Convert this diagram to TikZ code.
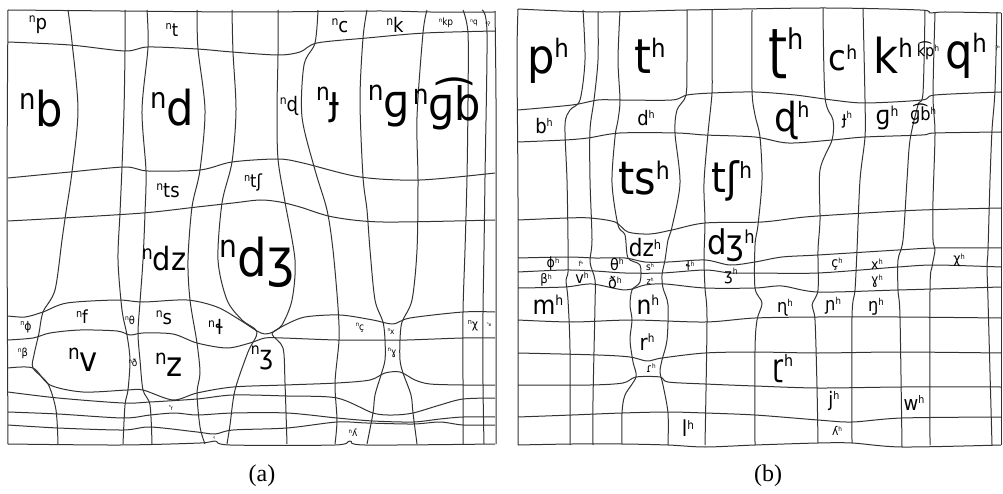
\documentclass[tikz,border=0pt]{standalone}
\usepackage{fontspec}
\setmainfont{DejaVu Sans}[FakeStretch=0.9]
\newfontfamily\capfont{Liberation Serif}
\newcommand{\fsz}[1]{\fontsize{#1}{#1}\selectfont}
\newcommand{\supn}{\raisebox{0.36em}{\scalebox{0.6}{n}}}
\newcommand{\suph}{\raisebox{0.33em}{\scalebox{0.53}{h}}}
\newcommand{\gl}[1]{\draw[gridline] plot[smooth,tension=0.5] coordinates {#1};}
\newcommand{\lab}[5]{\node[lab,font=\fsz{#4}] (#1) at (#2,#3) {#5};}
\begin{document}
\begin{tikzpicture}[x=1pt,y=-1pt,
  gridline/.style={line width=1pt,draw=black!80,line join=round},
  lab/.style={inner sep=0pt,anchor=center,text=black}]
\useasboundingbox[fill=white] (0,0) rectangle (1003,494);

% ---------------- panel (a): horizontal lines
\gl{(8,10) (120,11) (250,12) (380,11) (430,12) (495,12)}
\gl{(8,42) (70,45) (125,51) (148,47) (197,49) (232,52) (278,55) (300,52) (317,43) (367,38) (425,33) (495,31)}
\gl{(8,178) (70,172) (125,167) (148,171) (200,170) (232,162) (278,159) (303,163) (360,177) (420,180) (495,173)}
\gl{(8,221) (63,218) (143,213) (197,207) (233,203) (260,200) (280,202) (300,207) (333,217) (383,222) (495,220)}
\gl{(8,316) (25,317) (43,312) (67,303) (117,300) (143,302) (187,300) (217,307) (240,320) (257,331) (265,334) (273,332) (285,325) (305,317) (340,315) (373,320) (393,324) (410,318) (463,312) (495,312)}
\gl{(8,340) (33,338) (50,333) (80,330) (117,331) (130,335) (143,333) (173,334) (197,343) (227,348) (250,343) (265,338) (283,338) (337,340) (383,340) (407,340) (463,338) (495,338)}
\gl{(8,368) (33,368) (50,385) (83,392) (127,390) (143,390) (173,400) (197,393) (233,387) (285,385) (337,383) (370,380) (385,373) (400,372) (415,380) (430,384) (463,385) (495,385)}
\gl{(8,392) (58,398) (123,403) (150,402) (197,399) (233,395) (287,396) (337,398) (373,413) (393,415) (413,413) (440,405) (463,399) (495,398)}
\gl{(8,412) (58,414) (123,418) (150,415) (175,413) (197,415) (233,413) (287,413) (337,418) (373,421) (413,422) (440,419) (463,417) (495,417)}
\gl{(8,425) (58,428) (123,430) (150,427) (197,432) (215,434) (233,430) (287,428) (337,422) (367,423) (413,424) (440,422) (463,425) (495,425)}
\gl{(8,444) (120,445) (200,443) (215,441) (230,445) (335,445) (350,441) (365,445) (495,444)}

% ---------------- panel (a): vertical lines
\gl{(8,10) (7,200) (8,444)}
\gl{(68,10) (72,42) (78,110) (72,172) (66,212) (62,240) (55,290) (43,312) (39,333) (34,355) (33,368) (48,384) (56,410) (58,444)}
\gl{(125,10) (125,51) (124,110) (122,167) (120,213) (118,260) (122,310) (127,335) (130,360) (128,390) (125,405) (123,444)}
\gl{(147,10) (148,47) (142,110) (146,171) (145,213) (143,260) (140,302) (138,333) (140,360) (143,390) (150,405) (152,444)}
\gl{(197,10) (198,49) (205,110) (200,170) (192,207) (188,260) (190,300) (197,343) (200,373) (197,393) (200,427) (205,444)}
\gl{(232,10) (233,52) (236,110) (232,162) (222,203) (218,260) (227,300) (242,320) (257,332) (248,352) (235,390) (230,425) (227,444)}
\gl{(278,10) (278,55) (277,110) (278,159) (285,202) (295,260) (292,300) (282,325) (272,334) (283,348) (285,383) (287,444)}
\gl{(318,10) (315,43) (304,65) (302,117) (315,170) (327,210) (333,250) (338,307) (339,340) (335,383) (337,420) (335,444)}
\gl{(367,10) (363,38) (360,100) (363,177) (367,210) (370,250) (375,300) (383,322) (385,340) (385,360) (381,375) (375,395) (373,413) (367,444)}
\gl{(427,10) (423,33) (417,117) (418,180) (417,250) (412,300) (402,322) (400,340) (400,360) (403,373) (411,395) (413,413) (417,444)}
\gl{(463,10) (468,33) (468,100) (467,177) (465,250) (463,312) (463,385) (463,444)}
\gl{(482,10) (487,33) (485,177) (484,250) (483,312) (483,385) (484,444)}
\gl{(495,11) (496,100) (496,250) (496,444)}

% ---------------- panel (a): labels
\lab{anp}{38}{25}{20}{\supn p}
\lab{ant}{172}{30}{18}{\supn t}
\lab{anc}{340}{26}{20}{\supn c}
\lab{ank}{395}{25}{20}{\supn k}
\lab{ankp}{446}{23}{10}{\supn kp}
\lab{anq}{474}{23}{8}{\supn q}
\lab{angl}{488}{24}{6}{\supn ʔ}
\lab{anb}{41}{109}{48}{\supn b}
\lab{and}{172}{108}{48}{\supn d}
\lab{anrd}{289}{106}{20}{\supn ɖ}
\lab{anj}{328}{105}{40}{\supn ɟ}
\lab{ang}{389}{106}{46}{\supn ɡ}
\lab{angb}{447}{104}{46}{\supn ɡ͡b}
\lab{ants}{168}{191}{20}{\supn ts}
\lab{antsh}{253}{183}{18}{\supn tʃ}
\lab{andz}{164}{259}{32}{\supn dz}
\lab{andzh}{257}{262}{52}{\supn dʒ}
\lab{anf}{82}{317}{18}{\supn f}
\lab{anth}{130}{320}{11}{\supn θ}
\lab{ans}{164}{318}{20}{\supn s}
\lab{anlh}{216}{327}{20}{\supn ɬ}
\lab{anph}{26}{327}{12}{\supn ɸ}
\lab{anbe}{23}{353}{11}{\supn β}
\lab{anv}{83}{360}{34}{\supn v}
\lab{andh}{133}{363}{10}{\supn ð}
\lab{anz}{169}{365}{34}{\supn z}
\lab{anzh}{262}{358}{26}{\supn ʒ}
\lab{ancc}{360}{328}{10}{\supn ç}
\lab{anx}{391}{332}{8}{\supn x}
\lab{angh}{392}{353}{10}{\supn ɣ}
\lab{anchi}{473}{326}{12}{\supn χ}
\lab{anrr}{489}{325}{5}{\supn ʁ}
\lab{anll}{353}{433}{10}{\supn ʎ}
\lab{anr}{171}{408}{6}{\supn r}
\lab{anl}{214}{438}{4}{\supn l}

% ---------------- panel (b): horizontal lines
\gl{(518,9) (598,12) (687,10) (823,8) (920,10) (930,13) (945,12) (1001,13)}
\gl{(518,110) (572,105) (598,100) (620,100) (672,100) (687,95) (712,93) (755,92) (795,95) (832,100) (865,103) (922,100) (935,95) (1001,92)}
\gl{(518,142) (565,140) (588,138) (620,133) (677,133) (705,135) (755,137) (788,143) (832,140) (865,137) (922,135) (935,133) (1001,132)}
\gl{(518,220) (567,218) (590,218) (615,222) (628,232) (650,234) (672,230) (705,223) (762,222) (805,217) (865,213) (922,210) (1001,208)}
\gl{(518,258) (568,257) (595,258) (625,258) (645,262) (668,262) (705,260) (730,265) (755,262) (782,257) (818,255) (898,250) (935,248) (1001,248)}
\gl{(518,272) (565,270) (595,271) (625,273) (662,273) (705,270) (730,273) (755,273) (818,273) (898,267) (935,265) (1001,267)}
\gl{(518,288) (565,287) (592,284) (625,290) (645,285) (665,284) (705,288) (755,288) (782,286) (818,292) (898,290) (1001,287)}
\gl{(518,320) (572,322) (632,320) (705,322) (755,318) (818,317) (898,317) (1001,318)}
\gl{(518,353) (598,355) (630,357) (647,361) (662,358) (705,353) (755,352) (818,353) (898,352) (1001,353)}
\gl{(518,385) (590,385) (623,383) (636,377) (660,377) (668,382) (705,384) (755,386) (818,388) (902,387) (1001,387)}
\gl{(518,417) (572,415) (622,413) (668,412) (705,413) (755,415) (818,420) (852,422) (902,418) (1001,417)}
\gl{(518,445) (572,444) (622,444) (668,445) (705,447) (755,445) (818,443) (852,443) (902,447) (1001,445)}

% ---------------- panel (b): vertical lines
\gl{(518,9) (517,60) (518,200) (518,445)}
\gl{(583,10) (585,60) (580,100) (570,110) (565,125) (567,180) (568,240) (568,272) (566,280) (568,300) (570,350) (570,445)}
\gl{(598,12) (598,60) (594,100) (590,130) (590,180) (592,240) (590,262) (595,280) (595,305) (593,400) (593,445)}
\gl{(620,11) (618,60) (620,100) (618,120) (615,137) (612,183) (618,225) (625,235) (628,258) (640,265) (640,282) (632,290) (630,305) (632,320) (630,340) (633,362) (636,377) (625,395) (622,413) (622,444)}
\gl{(687,10) (687,60) (686,95) (677,110) (675,133) (680,183) (672,227) (668,240) (665,260) (662,275) (663,288) (668,305) (667,340) (662,360) (660,372) (663,385) (668,413) (668,445)}
\gl{(712,10) (712,60) (712,93) (708,133) (704,183) (705,222) (704,258) (705,288) (707,320) (705,445)}
\gl{(752,10) (752,90) (755,115) (760,137) (762,180) (758,225) (755,245) (755,288) (762,303) (757,320) (755,350) (755,445)}
\gl{(823,8) (825,97) (833,120) (832,140) (820,170) (820,220) (818,250) (818,290) (812,305) (815,320) (817,387) (818,443)}
\gl{(863,8) (865,100) (865,137) (860,180) (857,250) (855,290) (852,317) (852,443)}
\gl{(925,10) (923,93) (918,105) (910,140) (907,180) (903,240) (898,260) (898,290) (900,317) (902,447)}
\gl{(935,13) (933,95) (935,133) (933,200) (933,240) (935,250) (932,267) (930,290) (930,445)}
\gl{(997,12) (995,90) (992,130) (990,180) (988,250) (987,267) (988,300) (992,445)}
\gl{(1001,13) (1001,445)}

% ---------------- panel (b): labels
\lab{ph}{548}{61}{48}{p\suph}
\lab{th}{650}{56}{48}{t\suph}
\lab{rth}{786}{53}{54}{ʈ\suph}
\lab{ch}{843}{58}{36}{c\suph}
\lab{kh}{893}{55}{48}{k\suph}
\lab{kph}{928}{51}{16}{k͡p\suph}
\lab{qh}{966}{56}{48}{q\suph}
\lab{glh}{998}{48}{6}{ʔ\suph}
\lab{bh}{544}{126}{20}{b\suph}
\lab{dh}{646}{118}{20}{d\suph}
\lab{rdh}{792}{120}{40}{ɖ\suph}
\lab{jjh}{847}{120}{18}{ɟ\suph}
\lab{gh}{887}{118}{26}{ɡ\suph}
\lab{gbh}{923}{114}{18}{ɡ͡b\suph}
\lab{tsh}{644}{178}{46}{ts\suph}
\lab{tshh}{732}{181}{42}{tʃ\suph}
\lab{dzh}{645}{248}{24}{dz\suph}
\lab{dzhh}{731}{245}{34}{dʒ\suph}
\lab{phih}{553}{264}{14}{ɸ\suph}
\lab{fh}{581}{264}{7}{f\suph}
\lab{thh}{617}{264}{16}{θ\suph}
\lab{sh}{650}{267}{10}{s\suph}
\lab{lhh}{690}{266}{12}{ɬ\suph}
\lab{cch}{837}{264}{14}{ç\suph}
\lab{xh}{877}{264}{14}{x\suph}
\lab{chih}{959}{260}{14}{χ\suph}
\lab{beh}{546}{280}{13}{β\suph}
\lab{vh}{582}{278}{16}{v\suph}
\lab{dhh}{615}{283}{16}{ð\suph}
\lab{zh}{650}{281}{9}{z\suph}
\lab{zhh}{731}{276}{16}{ʒ\suph}
\lab{ggh}{877}{281}{14}{ɣ\suph}
\lab{mh}{548}{305}{26}{m\suph}
\lab{nh}{648}{305}{26}{n\suph}
\lab{rnh}{785}{308}{18}{ɳ\suph}
\lab{pnh}{833}{306}{18}{ɲ\suph}
\lab{ngh}{876}{307}{18}{ŋ\suph}
\lab{rh}{647}{342}{22}{r\suph}
\lab{taph}{651}{368}{12}{ɾ\suph}
\lab{rflh}{783}{369}{30}{ɽ\suph}
\lab{jh}{834}{401}{20}{j\suph}
\lab{wh}{914}{403}{20}{w\suph}
\lab{lh}{688}{428}{22}{l\suph}
\lab{plh}{837}{431}{12}{ʎ\suph}

% ---------------- captions
\node[lab,font=\capfont\fsz{24}] (capa) at (262,476) {(a)};
\node[lab,font=\capfont\fsz{24}] (capb) at (768,476) {(b)};
\end{tikzpicture}
\end{document}
